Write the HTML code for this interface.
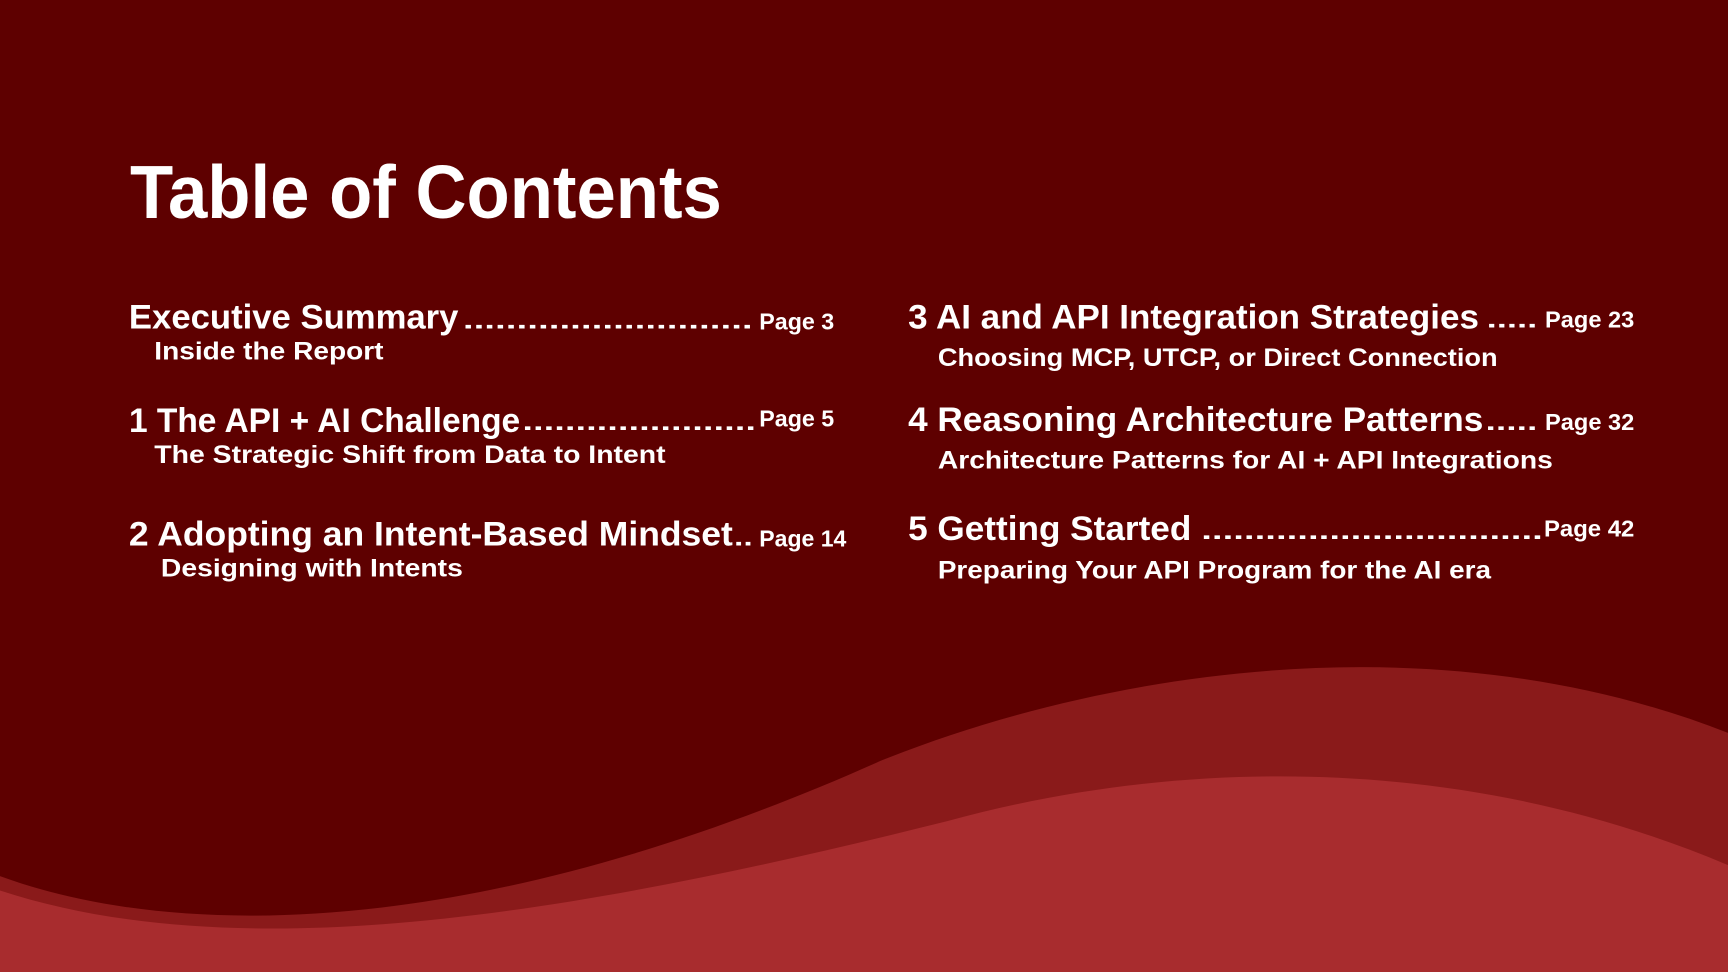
<!DOCTYPE html>
<html><head><meta charset="utf-8"><style>
html,body{margin:0;padding:0;width:1728px;height:972px;overflow:hidden;background:#5e0000}
svg{display:block}
text{font-family:"Liberation Sans",sans-serif;font-weight:bold;fill:#fff}
</style></head><body>
<svg width="1728" height="972" viewBox="0 0 1568 882" preserveAspectRatio="none">
<rect width="1568" height="882" fill="#5e0000"/>
<path d="M0,795 C150,850 420,860 800,690 C1000,610 1300,560 1568,665 L1568,882 L0,882 Z" fill="#8a1a1a"/>
<path d="M0,808 C220,880 520,830 860,745 C1060,690 1320,680 1568,785 L1568,882 L0,882 Z" fill="#a82c2e"/>
<text x="118" y="198" font-size="68" textLength="537" lengthAdjust="spacingAndGlyphs">Table of Contents</text>

<text x="117" y="298" font-size="31" textLength="299" lengthAdjust="spacingAndGlyphs">Executive Summary</text>
<text x="420" y="298" font-size="22" textLength="263" lengthAdjust="spacingAndGlyphs">...........................</text>
<text x="689" y="299" font-size="21" textLength="68" lengthAdjust="spacingAndGlyphs">Page 3</text>
<text x="140" y="326" font-size="23" textLength="208" lengthAdjust="spacingAndGlyphs">Inside the Report</text>

<text x="117" y="392" font-size="31" textLength="355" lengthAdjust="spacingAndGlyphs">1 The API + AI Challenge</text>
<text x="474" y="390" font-size="22" textLength="212" lengthAdjust="spacingAndGlyphs">......................</text>
<text x="689" y="387" font-size="21" textLength="68" lengthAdjust="spacingAndGlyphs">Page 5</text>
<text x="140" y="420" font-size="23" textLength="464" lengthAdjust="spacingAndGlyphs">The Strategic Shift from Data to Intent</text>

<text x="117" y="495" font-size="31" textLength="548" lengthAdjust="spacingAndGlyphs">2 Adopting an Intent-Based Mindset</text>
<text x="666" y="495" font-size="22" textLength="17" lengthAdjust="spacingAndGlyphs">..</text>
<text x="689" y="496" font-size="21" textLength="79" lengthAdjust="spacingAndGlyphs">Page 14</text>
<text x="146" y="523" font-size="23" textLength="274" lengthAdjust="spacingAndGlyphs">Designing with Intents</text>

<text x="824" y="298" font-size="31" textLength="518" lengthAdjust="spacingAndGlyphs">3 AI and API Integration Strategies</text>
<text x="1349" y="297" font-size="22" textLength="46" lengthAdjust="spacingAndGlyphs">.....</text>
<text x="1402" y="297" font-size="21" textLength="81" lengthAdjust="spacingAndGlyphs">Page 23</text>
<text x="851" y="332" font-size="23" textLength="508" lengthAdjust="spacingAndGlyphs">Choosing MCP, UTCP, or Direct Connection</text>

<text x="824" y="391" font-size="31" textLength="522" lengthAdjust="spacingAndGlyphs">4 Reasoning Architecture Patterns</text>
<text x="1348" y="390" font-size="22" textLength="47" lengthAdjust="spacingAndGlyphs">.....</text>
<text x="1402" y="390" font-size="21" textLength="81" lengthAdjust="spacingAndGlyphs">Page 32</text>
<text x="851" y="425" font-size="23" textLength="558" lengthAdjust="spacingAndGlyphs">Architecture Patterns for AI + API Integrations</text>

<text x="824" y="490" font-size="31" textLength="257" lengthAdjust="spacingAndGlyphs">5 Getting Started</text>
<text x="1090" y="489" font-size="22" textLength="310" lengthAdjust="spacingAndGlyphs">................................</text>
<text x="1401" y="487" font-size="21" textLength="82" lengthAdjust="spacingAndGlyphs">Page 42</text>
<text x="851" y="525" font-size="23" textLength="502" lengthAdjust="spacingAndGlyphs">Preparing Your API Program for the AI era</text>
</svg>
</body></html>
